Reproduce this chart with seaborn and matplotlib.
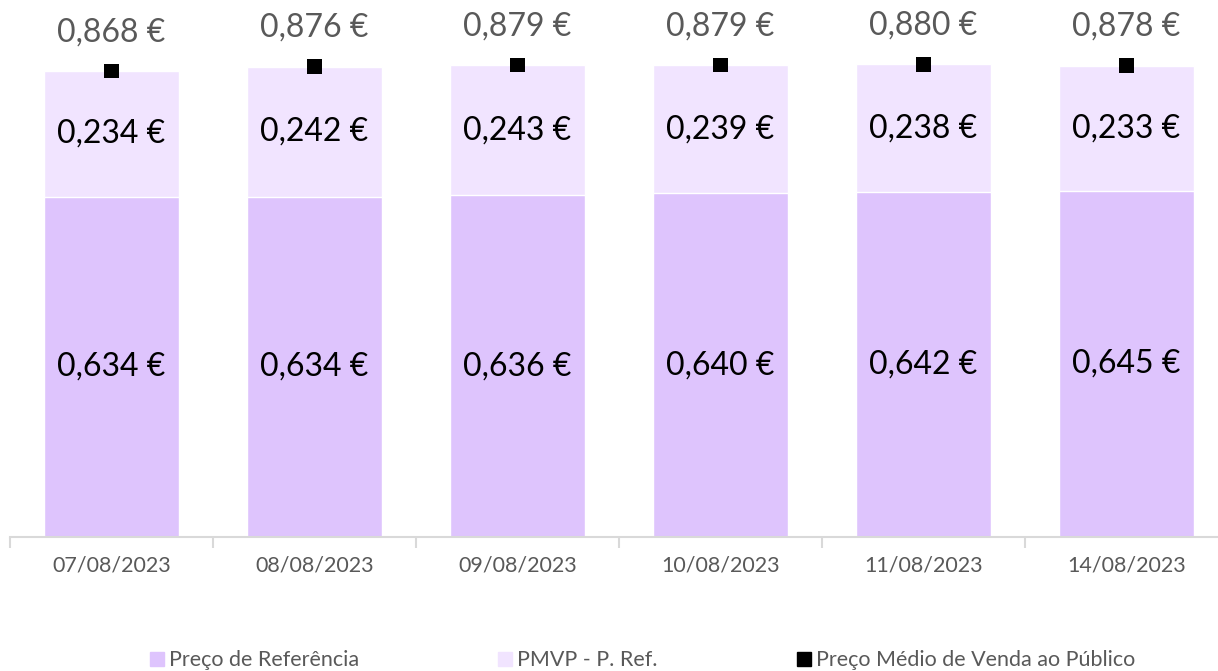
import numpy as np
import pandas as pd
import matplotlib
matplotlib.use('Agg')
import matplotlib.pyplot as plt
import seaborn as sns
from matplotlib.lines import Line2D
from matplotlib.ticker import FixedLocator

# data
datas = ['07/08/2023', '08/08/2023', '09/08/2023', '10/08/2023', '11/08/2023', '14/08/2023']
preco_ref = [0.634, 0.634, 0.636, 0.640, 0.642, 0.645]
pmvp_menos_ref = [0.234, 0.242, 0.243, 0.239, 0.238, 0.233]
pmvp = [0.868, 0.876, 0.879, 0.879, 0.880, 0.878]

cor_ref = '#DEC4FD'
cor_dif = '#F1E4FF'
cinza = '#595959'

df = pd.DataFrame({'data': datas, 'ref': preco_ref, 'dif': pmvp_menos_ref, 'total': pmvp})

sns.set_style('white')
plt.rcParams['font.family'] = ['Lato', 'DejaVu Sans']

fig = plt.figure(figsize=(12.18, 6.71), dpi=100)
ax = fig.add_axes([10 / 1218, 1 - 537 / 671, 1218 / 1218, 537 / 671])

# stacked bars: total (light) first, reference price on top of it
sns.barplot(data=df, x='data', y='total', color=cor_dif, saturation=1, width=0.665, ax=ax)
sns.barplot(data=df, x='data', y='ref', color=cor_ref, saturation=1, width=0.665, ax=ax)
sns.scatterplot(data=df, x='data', y='total', marker='s', color='black', s=110,
                edgecolor='none', ax=ax, zorder=5)

def fmt(v):
    return f'{v:.3f}'.replace('.', ',') + ' €'

for i, row in df.iterrows():
    ax.text(i, row['ref'] / 2, fmt(row['ref']), ha='center', va='center', fontsize=23, color='black')
    ax.text(i, row['ref'] + row['dif'] / 2, fmt(row['dif']), ha='center', va='center', fontsize=23, color='black')
    ax.text(i, row['total'] + 0.072, fmt(row['total']), ha='center', va='center', fontsize=23, color=cinza)

ax.set_ylim(0, 1.0)
ax.set_xlim(-0.5, len(datas) - 0.5)
ax.set_yticks([])
ax.set_xlabel('')
ax.set_ylabel('')
for s in ['top', 'right', 'left']:
    ax.spines[s].set_visible(False)
ax.spines['bottom'].set_color('#D9D9D9')
ax.spines['bottom'].set_linewidth(1.5)

ax.xaxis.set_minor_locator(FixedLocator(np.arange(-0.5, len(datas), 1)))
ax.tick_params(axis='x', which='major', length=0, pad=13, labelsize=15.5, labelcolor=cinza)
ax.tick_params(axis='x', which='minor', length=8, width=1.5, color='#D9D9D9', bottom=True)

handles = [
    Line2D([], [], marker='s', linestyle='none', color=cor_ref, markersize=10),
    Line2D([], [], marker='s', linestyle='none', color=cor_dif, markersize=10),
    Line2D([], [], marker='s', linestyle='none', color='black', markersize=10),
]
labels = ['Preço de Referência', 'PMVP - P. Ref.', 'Preço Médio de Venda ao Público']
leg = fig.legend(handles, labels, loc='center', bbox_to_anchor=(0.527, 0.016), ncol=3,
                 frameon=False, fontsize=15.5, handletextpad=0.15, columnspacing=6.4,
                 handlelength=0.8)
for t in leg.get_texts():
    t.set_color(cinza)

fig.savefig('out.png', dpi=100)
